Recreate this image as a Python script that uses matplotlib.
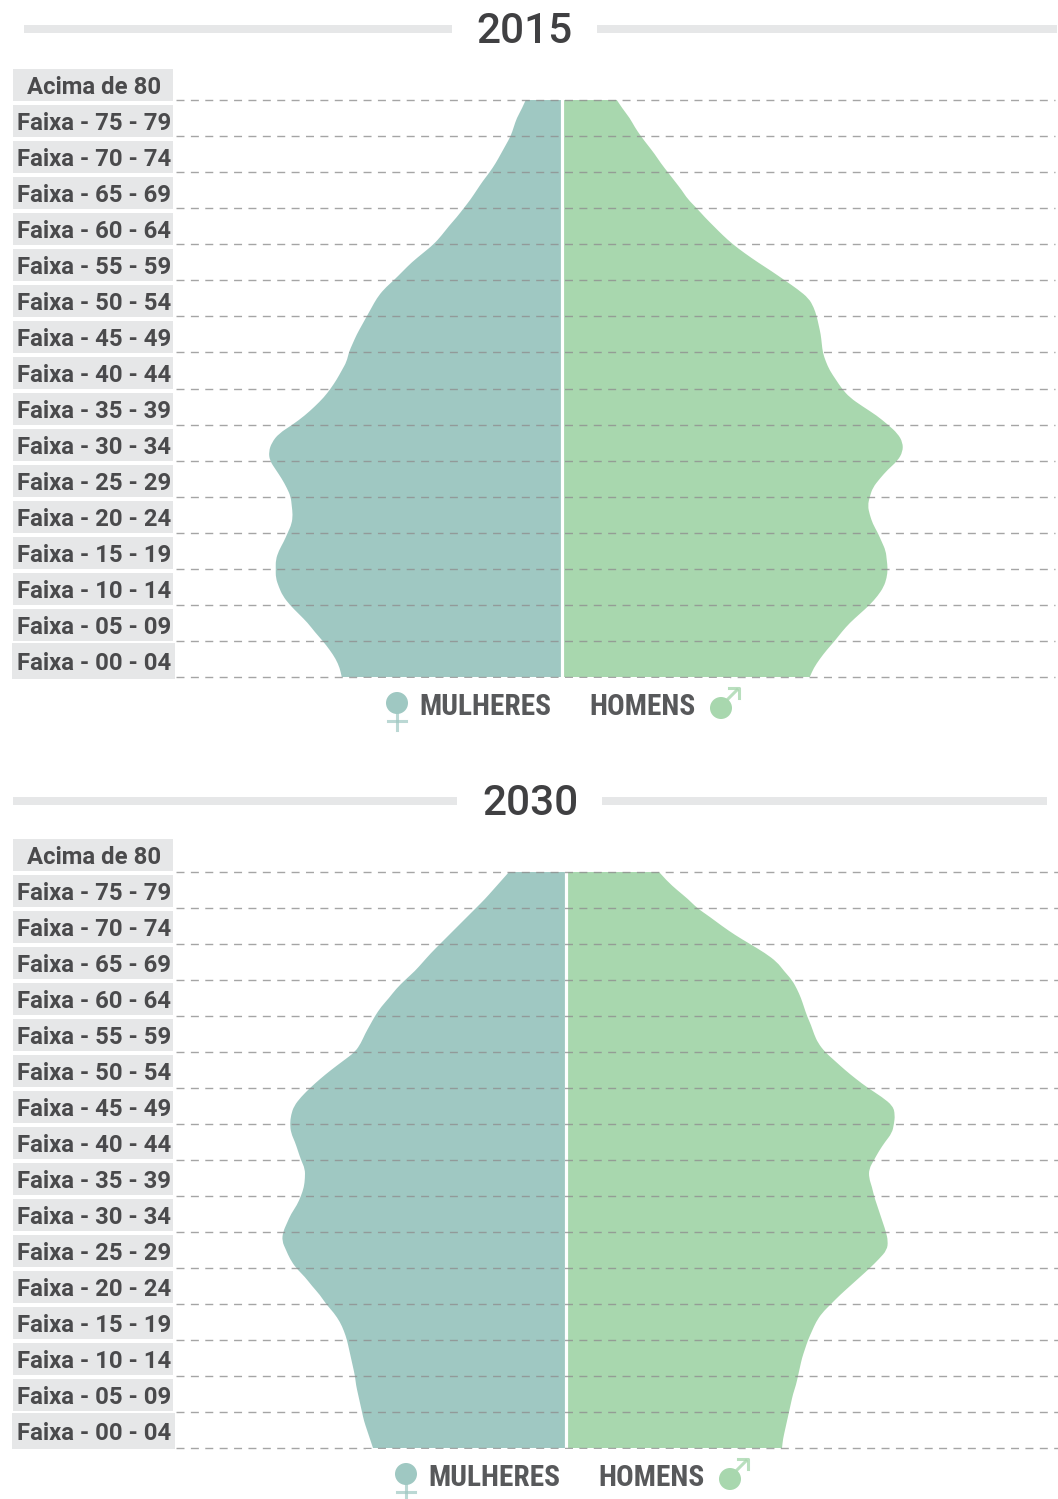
import numpy as np
import matplotlib.pyplot as plt
from matplotlib.patches import Circle, PathPatch, Rectangle
from matplotlib.path import Path

plt.rcParams['font.family'] = ['Roboto', 'DejaVu Sans']

# faixas etarias, de cima para baixo
faixas = ['Acima de 80', 'Faixa - 75 - 79', 'Faixa - 70 - 74', 'Faixa - 65 - 69', 'Faixa - 60 - 64',
          'Faixa - 55 - 59', 'Faixa - 50 - 54', 'Faixa - 45 - 49', 'Faixa - 40 - 44', 'Faixa - 35 - 39',
          'Faixa - 30 - 34', 'Faixa - 25 - 29', 'Faixa - 20 - 24', 'Faixa - 15 - 19', 'Faixa - 10 - 14',
          'Faixa - 05 - 09', 'Faixa - 00 - 04']

# contorno, um valor a cada quarto de faixa
mulheres_2015 = [35, 39, 44, 47, 50, 55, 60, 65, 71, 78, 84, 90, 97, 104, 112, 119, 127,
                 138, 149, 158, 167, 177, 184, 189, 194, 199, 204, 208, 212, 214, 219, 224, 230,
                 237, 246, 256, 268, 282, 289, 292, 291, 285, 279, 274, 270, 269, 268, 269, 273,
                 277, 282, 285, 285, 285, 282, 278, 271, 262, 253, 246, 238, 231, 225, 221, 219]
homens_2015 = [53, 59, 66, 71, 77, 84, 91, 97, 104, 111, 118, 124, 133, 141, 150, 159, 169,
               181, 194, 208, 221, 234, 245, 250, 253, 255, 257, 258, 259, 262, 266, 272, 278,
               286, 299, 313, 324, 334, 339, 339, 334, 324, 316, 309, 306, 304, 306, 309, 314,
               318, 322, 323, 324, 323, 320, 314, 306, 296, 286, 278, 271, 263, 256, 250, 246]
mulheres_2030 = [55, 63, 71, 79, 88, 97, 106, 115, 124, 133, 141, 149, 159, 168, 175, 183, 189,
                 194, 199, 203, 209, 221, 233, 244, 254, 263, 270, 273, 274, 273, 269, 266, 263,
                 259, 259, 260, 263, 267, 273, 277, 281, 282, 278, 274, 268, 259, 252, 244, 238,
                 230, 224, 220, 217, 215, 213, 211, 209, 208, 206, 204, 202, 200, 197, 194, 191]
homens_2030 = [92, 100, 110, 121, 130, 143, 155, 168, 183, 198, 210, 217, 225, 230, 234, 237, 240,
               244, 247, 251, 258, 268, 278, 289, 301, 315, 326, 328, 327, 325, 318, 312, 307,
               302, 302, 305, 307, 310, 313, 316, 319, 321, 320, 312, 303, 293, 283, 273, 264,
               255, 249, 245, 241, 238, 235, 233, 231, 229, 226, 224, 222, 220, 218, 216, 215]

COR_M = '#9FC8C2'
COR_H = '#A8D7AE'
COR_CAIXA = '#E6E7E8'
COR_TEXTO = '#4A4A4C'
W, H = 1058, 1499

fig = plt.figure(figsize=(W / 100, H / 100), dpi=100)
bg = fig.add_axes([0, 0, 1, 1], zorder=0)
bg.set_xlim(0, W)
bg.set_ylim(H, 0)
bg.axis('off')
fg = fig.add_axes([0, 0, 1, 1], zorder=5)
fg.set_xlim(0, W)
fg.set_ylim(H, 0)
fg.axis('off')
fg.patch.set_alpha(0)


def contorno(ax, valores, sinal, cor, gap=1.5):
    # curva suave passando pelos valores lidos
    t = np.arange(len(valores)) * 0.25
    x = sinal * (np.array(valores) + gap)
    verts = [(0, t[0]), (x[0], t[0])]
    codes = [Path.MOVETO, Path.LINETO]
    for i in range(1, len(x) - 1):
        verts += [(x[i], t[i]), ((x[i] + x[i + 1]) / 2, (t[i] + t[i + 1]) / 2)]
        codes += [Path.CURVE3, Path.CURVE3]
    verts += [(x[-1], t[-1]), (0, t[-1]), (0, t[0])]
    codes += [Path.LINETO, Path.LINETO, Path.CLOSEPOLY]
    ax.add_patch(PathPatch(Path(verts, codes), facecolor=cor, lw=0))


def piramide(ano, mulheres, homens, meio, topo, base, x_ano, barras, topo_caixas, x_leg, fim_grade):
    ax = fig.add_axes([176 / W, 1 - base / H, (W - 176) / W, (base - topo) / H], zorder=2)
    ax.set_xlim(176 - meio, W - meio)
    ax.set_ylim(16, 0)
    ax.axis('off')
    contorno(ax, mulheres, -1, COR_M)
    contorno(ax, homens, 1, COR_H)
    ax.axvline(0, color='white', lw=2.3)
    ax.hlines(np.arange(17), 176 - meio, fim_grade - meio, color='#8f8f8f', lw=1, alpha=0.8,
              linestyles=(0, (8 / 1.39, 6.4 / 1.39)), clip_on=False)

    # titulo
    for x0, x1 in barras:
        bg.add_patch(Rectangle((x0, topo - 75.5), x1 - x0, 8, color=COR_CAIXA, lw=0))
    bg.text(x_ano, topo - 69, ano, fontsize=30.5, fontweight='medium', color='#404042', ha='center', va='center')

    # caixas das faixas
    for i, nome in enumerate(faixas):
        y = topo_caixas + 36 * i
        if i == 16:
            bg.add_patch(Rectangle((12, y - 1.5), 163, 35.7, color=COR_CAIXA, lw=0))
        else:
            bg.add_patch(Rectangle((13, y), 160, 32.5, color=COR_CAIXA, lw=0))
        bg.text(94, y + 19, nome, fontsize=17.2, fontweight='bold', color=COR_TEXTO,
                ha='center', va='center')

    # legenda
    fg.add_patch(Rectangle((x_leg - 20, base + 1), 373, 52, color='white', lw=0))
    yl = base + 30
    fg.text(x_leg + 42, yl, 'MULHERES', fontsize=21.2, fontweight='bold', color='#58595B', ha='left',
            va='center', family=['Roboto Condensed', 'Roboto'])
    fg.text(x_leg + 212, yl, 'HOMENS', fontsize=21.2, fontweight='bold', color='#58595B', ha='left',
            va='center', family=['Roboto Condensed', 'Roboto'])
    fg.add_patch(Circle((x_leg + 20, yl - 4), 11, color=COR_M, lw=0))
    fg.plot([x_leg + 20, x_leg + 20], [yl + 7, yl + 23], color=COR_M, lw=2.2, alpha=0.7)
    fg.plot([x_leg + 11, x_leg + 29], [yl + 14, yl + 14], color=COR_M, lw=2.2, alpha=0.7)
    fg.add_patch(Circle((x_leg + 344, yl + 1), 11, color=COR_H, lw=0))
    fg.plot([x_leg + 350, x_leg + 360], [yl - 7, yl - 17], color=COR_H, lw=2.2, alpha=0.8)
    fg.plot([x_leg + 352, x_leg + 362, x_leg + 362], [yl - 19, yl - 19, yl - 9], color=COR_H, lw=2.2, alpha=0.8)


piramide('2015', mulheres_2015, homens_2015, 562.25, 100, 677, 524, [(24, 452), (597, 1057)], 68.5, 377, 1055)
piramide('2030', mulheres_2030, homens_2030, 565.5, 872, 1448, 530, [(13, 457), (602, 1047)], 838.5, 386, 1058)

fig.savefig('out.png', dpi=100)
